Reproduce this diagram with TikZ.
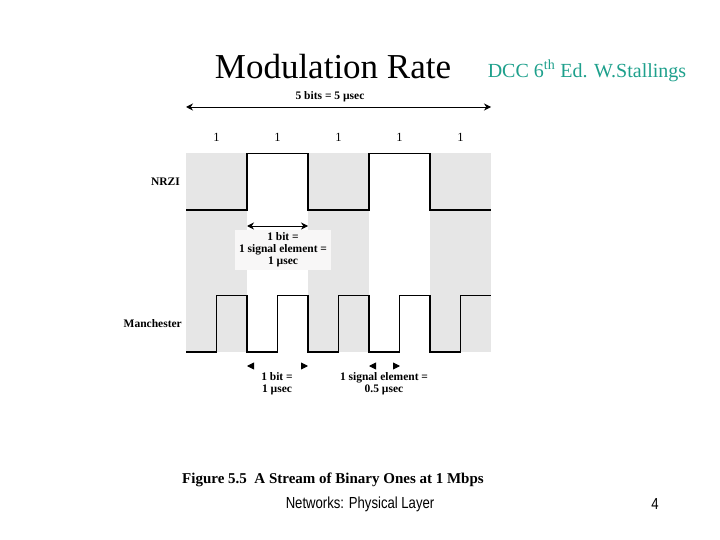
\documentclass[tikz,border=0pt]{standalone}
\usepackage{fontspec}
\setmainfont{Liberation Serif}
\newfontfamily\narrowsans[FakeStretch=0.82]{Liberation Sans}
\usetikzlibrary{arrows.meta}
\definecolor{bandgray}{RGB}{230,230,230}
\definecolor{teal2}{RGB}{30,160,140}
\definecolor{labelbg}{RGB}{248,247,247}
\tikzset{
  wave/.style={line width=1.6pt, line join=miter},
  lab/.style={font=\fontsize{11.5}{13}\selectfont\bfseries, align=center, inner sep=1pt},
  dim/.style={line width=0.9pt, {Stealth[length=7pt,width=7pt]}-{Stealth[length=7pt,width=7pt]}},
  tipsonly/.style={draw=white, line width=0.9pt, {Triangle[length=7pt,width=7pt,color=black,fill=black]}-{Triangle[length=7pt,width=7pt,color=black,fill=black]}}
}
\begin{document}
\begin{tikzpicture}[x=1pt,y=-1pt]
\useasboundingbox (0,0) rectangle (720,540);
% gray bands
\fill[bandgray] (186,153) rectangle (247,352);
\fill[bandgray] (308,153) rectangle (369,352);
\fill[bandgray] (430,153) rectangle (491,352);
% NRZI
\draw[wave] (186,210) -- (247,210) -- (247,153.5) -- (308,153.5) -- (308,210) -- (369,210) -- (369,153.5) -- (430,153.5) -- (430,210) -- (491,210);
% Manchester
\draw[wave] (186,352) -- (216.5,352) -- (216.5,295.5) -- (247,295.5) -- (247,352) -- (277.5,352) -- (277.5,295.5) -- (308,295.5) -- (308,352) -- (338.5,352) -- (338.5,295.5) -- (369,295.5) -- (369,352) -- (399.5,352) -- (399.5,295.5) -- (430,295.5) -- (430,352) -- (460.5,352) -- (460.5,295.5) -- (491,295.5);
% top dimension
\coordinate (tl) at (186,107);
\coordinate (tr) at (491,107);
\draw[dim] (tl) -- (tr);
\node[lab] (five) at (330,97) {5 bits = 5 \textmu sec};
% bit labels
\foreach \x/\n in {216.5/a,277.5/b,338.5/c,399.5/d,460.5/e}
  \node[font=\fontsize{12.5}{14}\selectfont] (one\n) at (\x,137) {1};
% row labels
\node[lab, anchor=east] (nrzi) at (181,182) {NRZI};
\node[lab, anchor=east] (manch) at (183,324) {Manchester};
% NRZI bit dimension
\coordinate (nl) at (247,226);
\coordinate (nr) at (308,226);
\node[lab, fill=labelbg, inner xsep=4pt, inner ysep=3pt] (nlab) at (283,250) {1 bit =\\[-1pt]1 signal element =\\[-1pt]1 \textmu sec};
\draw[dim] (nl) -- (nr);
% Manchester dimensions (tips only)
\coordinate (m1l) at (247,366);
\coordinate (m1r) at (308,366);
\coordinate (m2l) at (369,366);
\coordinate (m2r) at (400,366);
\draw[tipsonly] (m1l) -- (m1r);
\draw[tipsonly] (m2l) -- (m2r);
\node[lab] (mlab1) at (277,384) {1 bit =\\[-1pt]1 \textmu sec};
\node[lab] (mlab2) at (384,384) {1 signal element =\\[-1pt]0.5 \textmu sec};
% caption
\node[font=\fontsize{15}{17}\selectfont\bfseries] (cap) at (333,480) {Figure 5.5\ \ A Stream of Binary Ones at 1 Mbps};
% slide texts
\node[font=\fontsize{35}{40}\selectfont] (title) at (333,67) {Modulation Rate};
\node[font=\fontsize{20}{24}\selectfont, text=teal2] (dcc) at (587,71) {DCC 6\textsuperscript{th} Ed. W.Stallings};
\node[font=\fontsize{16}{18}\selectfont\narrowsans] (foot) at (360,504) {Networks: Physical Layer};
\node[font=\fontsize{16}{18}\selectfont\narrowsans] (pnum) at (655,504) {4};
\end{tikzpicture}
\end{document}
